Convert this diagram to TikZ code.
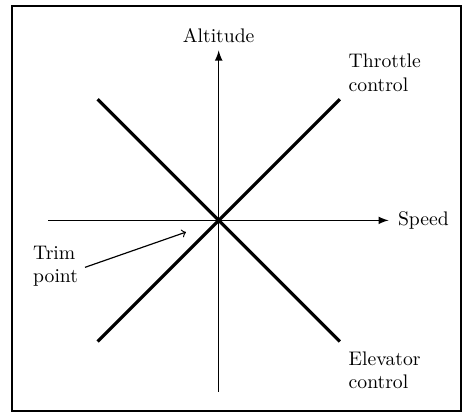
\documentclass[tikz,border=0pt]{standalone}
\usepackage{amsmath}
\usepackage{tikz}

\begin{document}
\begin{tikzpicture}[scale=1]
			\useasboundingbox (-3.91,-3.43) rectangle (4.35,3.94);
			\draw[line width=1pt] (-3.69,-3.415) rectangle (4.335,3.83);
			\coordinate (O) at (0,0);
			\coordinate (xl) at (-3.05,0);
			\coordinate (yb) at (0,-3.06);
			\draw[-latex,thick] (xl) -- (3.04,0) node[right,xshift=1pt] (speed) {Speed};
			\draw[-latex,thick] (yb) -- (0,3.04) node[above] (alt) {Altitude};
			\draw[line width=1.6pt] (-2.165,2.165) -- (2.165,-2.165);
			\draw[line width=1.6pt] (-2.165,-2.165) -- (2.165,2.165);
			\node[right,align=left] (thr) at (2.2,2.64) {Throttle\\control};
			\node[right,align=left] (elev) at (2.2,-2.68) {Elevator\\control};
			\node[right,align=left] (trim) at (-3.44,-0.82) {Trim\\point};
			\coordinate (tp) at (-0.585,-0.21);
			\draw[->,semithick] (trim.east) ++(0,-0.02) -- (tp);
		\end{tikzpicture}
\end{document}
